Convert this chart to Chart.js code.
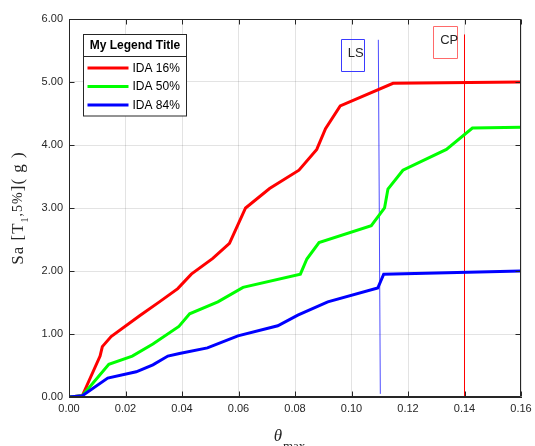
<!DOCTYPE html>
<html>
<head>
<meta charset="utf-8">
<script src="https://cdn.jsdelivr.net/npm/chart.js@4/dist/chart.umd.min.js"></script>
<style>
  html, body { margin: 0; padding: 0; background: #ffffff; }
  #wrap { width: 535px; height: 446px; }
</style>
</head>
<body>
<div id="wrap"><canvas id="ida" width="535" height="446"></canvas></div>
<script>
// Incremental dynamic analysis fractile curves: peak drift vs spectral acceleration
const seriesNames = ['IDA 16%', 'IDA 50%', 'IDA 84%'];

const drift16 = [0, 0.0047, 0.0110, 0.0118, 0.0149, 0.0250, 0.0320, 0.0385, 0.0433, 0.0509,
                 0.0568, 0.0625, 0.0710, 0.0814, 0.0877, 0.0908, 0.0960, 0.1147, 0.1600];
const sa16    = [0, 0.02, 0.65, 0.80, 0.96, 1.29, 1.51, 1.72, 1.95, 2.20,
                 2.44, 3.00, 3.31, 3.60, 3.93, 4.26, 4.62, 4.98, 5.00];

const drift50 = [0, 0.0047, 0.0141, 0.0224, 0.0297, 0.0389, 0.0427, 0.0527, 0.0616, 0.0819,
                 0.0842, 0.0885, 0.1070, 0.1117, 0.1129, 0.1182, 0.1336, 0.1428, 0.1600];
const sa50    = [0, 0.02, 0.52, 0.65, 0.84, 1.12, 1.32, 1.51, 1.74, 1.95,
                 2.19, 2.45, 2.72, 3.00, 3.30, 3.60, 3.93, 4.27, 4.28];

const drift84 = [0, 0.0047, 0.0137, 0.0238, 0.0297, 0.0350, 0.0391, 0.0490, 0.0598, 0.0739,
                 0.0810, 0.0916, 0.1093, 0.1114, 0.1600];
const sa84    = [0, 0.02, 0.30, 0.40, 0.51, 0.65, 0.69, 0.78, 0.97, 1.13,
                 1.30, 1.51, 1.73, 1.95, 2.00];

// Limit-state markers (life safety, collapse prevention)
const lsDrift = [0.1095, 0.1102];
const lsSa    = [5.67, 0.05];
const cpDrift = [0.14, 0.14];
const cpSa    = [5.75, 0.00];

const xTickLabels = ['0.00', '0.02', '0.04', '0.06', '0.08', '0.10', '0.12', '0.14', '0.16'];
const yTickLabels = ['0.00', '1.00', '2.00', '3.00', '4.00', '5.00', '6.00'];

const toPoints = (xs, ys) => xs.map((x, i) => ({ x: x, y: ys[i] }));

const INK = '#262626';
const SANS = '"Liberation Sans", Arial, Helvetica, sans-serif';
const SERIF = '"Liberation Serif", "Times New Roman", Times, serif';

// Tag boxes for the limit states, placed in data units
const stateTags = [
  { text: 'LS', box: [0.0962, 0.1045, 5.687, 5.179], textAt: [0.0987, 5.456], color: '#3a3aff' },
  { text: 'CP', box: [0.1288, 0.1372, 5.894, 5.386], textAt: [0.1314, 5.656], color: '#ff6a6a' }
];

// Top/right frame and inward tick marks
const framePlugin = {
  id: 'frame',
  afterDraw(chart) {
    const { ctx, chartArea: a, scales } = chart;
    ctx.save();
    ctx.strokeStyle = INK;
    ctx.lineWidth = 1;
    const L = Math.round(a.left) + 0.5, R = Math.round(a.right) - 0.5;
    const T = Math.round(a.top) + 0.5, B = Math.round(a.bottom) - 0.5;
    ctx.beginPath();
    ctx.moveTo(L, T); ctx.lineTo(R, T); ctx.lineTo(R, B); ctx.lineTo(L, B); ctx.closePath();
    const len = 5;
    scales.x.ticks.forEach(t => {
      const p = Math.round(scales.x.getPixelForValue(t.value)) + 0.5;
      ctx.moveTo(p, B); ctx.lineTo(p, B - len);
      ctx.moveTo(p, T); ctx.lineTo(p, T + len);
    });
    scales.y.ticks.forEach(t => {
      const p = Math.round(scales.y.getPixelForValue(t.value)) + 0.5;
      ctx.moveTo(L, p); ctx.lineTo(L + len, p);
      ctx.moveTo(R, p); ctx.lineTo(R - len, p);
    });
    ctx.stroke();
    ctx.restore();
  }
};

// LS / CP tag boxes
const tagPlugin = {
  id: 'tags',
  afterDatasetsDraw(chart) {
    const { ctx, scales } = chart;
    stateTags.forEach(tag => {
      const x0 = scales.x.getPixelForValue(tag.box[0]);
      const x1 = scales.x.getPixelForValue(tag.box[1]);
      const y0 = scales.y.getPixelForValue(tag.box[2]);
      const y1 = scales.y.getPixelForValue(tag.box[3]);
      ctx.save();
      ctx.beginPath();
      ctx.rect(Math.round(x0) + 0.5, Math.round(y0) + 0.5, Math.round(x1 - x0), Math.round(y1 - y0));
      ctx.strokeStyle = tag.color;
      ctx.lineWidth = 1;
      ctx.stroke();
      ctx.fillStyle = INK;
      ctx.font = '13px ' + SANS;
      ctx.textAlign = 'left';
      ctx.textBaseline = 'middle';
      ctx.fillText(tag.text, scales.x.getPixelForValue(tag.textAt[0]), scales.y.getPixelForValue(tag.textAt[1]));
      ctx.restore();
    });
  }
};

// Boxed legend with a title row
const legendPlugin = {
  id: 'boxLegend',
  afterDraw(chart) {
    const { ctx, chartArea: a } = chart;
    const left = Math.round(a.left + 14) + 0.5;
    const top = Math.round(a.top + 15) + 0.5;
    const w = 103, titleH = 22, rowH = 18.5;
    const n = seriesNames.length;
    const h = titleH + n * rowH + 4;
    ctx.save();
    ctx.fillStyle = '#ffffff';
    ctx.fillRect(left, top, w, h);
    ctx.strokeStyle = INK;
    ctx.lineWidth = 1;
    ctx.strokeRect(left, top, w, h);
    ctx.beginPath();
    ctx.moveTo(left, top + titleH); ctx.lineTo(left + w, top + titleH);
    ctx.stroke();
    ctx.fillStyle = '#000000';
    ctx.font = 'bold 12px ' + SANS;
    ctx.textAlign = 'center';
    ctx.textBaseline = 'middle';
    ctx.fillText('My Legend Title', left + w / 2, top + titleH / 2 + 0.5);
    ctx.font = '12px ' + SANS;
    ctx.textAlign = 'left';
    chart.data.datasets.slice(0, n).forEach((ds, i) => {
      const y = top + titleH + 11.5 + i * rowH;
      ctx.strokeStyle = ds.borderColor;
      ctx.lineWidth = 3;
      ctx.beginPath();
      ctx.moveTo(left + 4, y); ctx.lineTo(left + 45, y);
      ctx.stroke();
      ctx.fillStyle = '#000000';
      ctx.fillText(ds.label, left + 49, y + 0.5);
    });
    ctx.restore();
  }
};

// Axis titles with sub-scripts
const axisTitlePlugin = {
  id: 'axisTitles',
  afterDraw(chart) {
    const { ctx, chartArea: a } = chart;
    ctx.save();
    ctx.fillStyle = INK;
    ctx.textBaseline = 'alphabetic';
    ctx.textAlign = 'left';

    // x title: theta_max
    const cx = (a.left + a.right) / 2;
    ctx.font = 'italic 17px ' + SERIF;
    const wTheta = ctx.measureText('\u03b8').width;
    ctx.font = '13px ' + SERIF;
    const wMax = ctx.measureText('max').width;
    const startX = cx - (wTheta + wMax) / 2 - 6;
    ctx.font = 'italic 17px ' + SERIF;
    ctx.fillText('\u03b8', startX, 441);
    ctx.font = '13px ' + SERIF;
    ctx.fillText('max', startX + wTheta + 1, 450);

    // y title: Sa [T_1,5%]( g )
    const parts = [
      { t: 'Sa [T', f: '17px ' + SERIF, dy: 0 },
      { t: '1', f: '10px ' + SERIF, dy: 5 },
      { t: ',5%', f: '14px ' + SERIF, dy: -1 },
      { t: ']( g )', f: '17px ' + SERIF, dy: 0 }
    ];
    ctx.letterSpacing = '1px';
    let total = 0;
    parts.forEach(p => { ctx.font = p.f; p.w = ctx.measureText(p.t).width; total += p.w; });
    ctx.translate(23, (a.top + a.bottom) / 2);
    ctx.rotate(-Math.PI / 2);
    let px = -total / 2;
    parts.forEach(p => { ctx.font = p.f; ctx.fillText(p.t, px, p.dy); px += p.w; });
    ctx.restore();
  }
};

const curveColors = ['#ff0000', '#00ff00', '#0000ff'];
const curves = [toPoints(drift16, sa16), toPoints(drift50, sa50), toPoints(drift84, sa84)];

const datasets = curves.map((pts, i) => ({
  label: seriesNames[i],
  data: pts,
  borderColor: curveColors[i],
  backgroundColor: curveColors[i],
  borderWidth: 3,
  pointRadius: 0,
  showLine: true,
  fill: false,
  tension: 0,
  order: 3 - i
}));

datasets.push({
  label: 'LS',
  data: toPoints(lsDrift, lsSa),
  borderColor: 'rgba(0,0,255,0.7)',
  borderWidth: 1,
  pointRadius: 0,
  showLine: true,
  order: 10
});
datasets.push({
  label: 'CP',
  data: toPoints(cpDrift, cpSa),
  borderColor: 'rgba(255,0,0,0.95)',
  borderWidth: 1,
  pointRadius: 0,
  showLine: true,
  order: 10
});

new Chart(document.getElementById('ida'), {
  type: 'scatter',
  data: { datasets: datasets },
  options: {
    responsive: false,
    devicePixelRatio: 1,
    animation: false,
    events: [],
    layout: { padding: { left: 0, top: 19, right: 14, bottom: 0 } },
    plugins: { legend: { display: false }, tooltip: { enabled: false } },
    scales: {
      x: {
        type: 'linear',
        min: 0, max: 0.16,
        afterBuildTicks(scale) {
          scale.ticks = xTickLabels.map(s => ({ value: parseFloat(s) }));
        },
        afterFit(scale) {
          scale.height = 49;
          scale.paddingLeft = 0;
          scale.paddingRight = 0;
        },
        ticks: {
          callback: (v, i) => xTickLabels[i],
          font: { family: SANS, size: 11 },
          color: INK,
          padding: 5,
          maxRotation: 0,
          autoSkip: false
        },
        grid: { color: 'rgba(0,0,0,0.11)', drawTicks: false, lineWidth: 1 },
        border: { display: true, color: INK, width: 1 }
      },
      y: {
        type: 'linear',
        min: 0, max: 6,
        afterBuildTicks(scale) {
          scale.ticks = yTickLabels.map(s => ({ value: parseFloat(s) }));
        },
        afterFit(scale) {
          scale.width = 69;
          scale.paddingTop = 0;
          scale.paddingBottom = 0;
        },
        ticks: {
          callback: (v, i) => yTickLabels[i],
          font: { family: SANS, size: 11 },
          color: INK,
          padding: 6,
          autoSkip: false
        },
        grid: { color: 'rgba(0,0,0,0.11)', drawTicks: false, lineWidth: 1 },
        border: { display: true, color: INK, width: 1 }
      }
    }
  },
  plugins: [framePlugin, tagPlugin, legendPlugin, axisTitlePlugin]
});
</script>
</body>
</html>
